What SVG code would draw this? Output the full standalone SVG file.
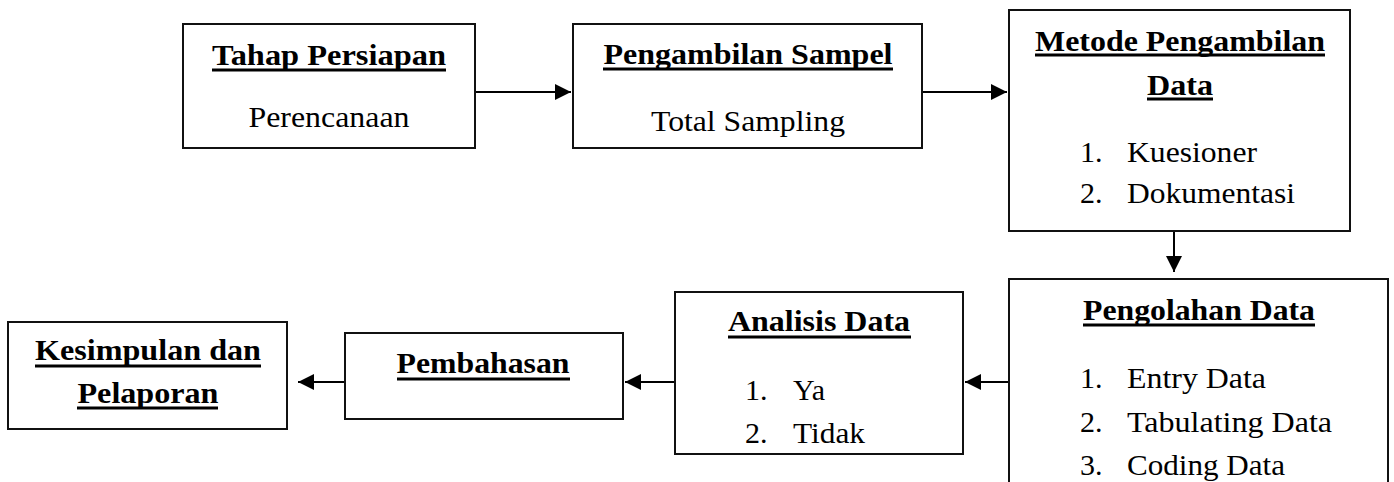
<svg xmlns="http://www.w3.org/2000/svg" width="1394" height="482" viewBox="0 0 1394 482">
<style>
.box{fill:#fff;stroke:#111;stroke-width:2}
.t{font-family:'Liberation Serif','Times New Roman',serif;font-size:30px;fill:#000}
.b{font-weight:bold}
.c{text-anchor:middle}
.ul{stroke:#000;stroke-width:3}
.conn{stroke:#000;stroke-width:2;fill:none}
</style>
<defs>
<marker id="ah" markerUnits="userSpaceOnUse" markerWidth="17" markerHeight="17" refX="16" refY="8" orient="auto">
<path d="M0,0 L16,8 L0,16 Z" fill="#000"/>
</marker>
</defs>
<rect width="1394" height="482" fill="#fff"/>
<g id="connectors">
<line class="conn" x1="475" y1="92" x2="571" y2="92" marker-end="url(#ah)"/>
<line class="conn" x1="922" y1="92" x2="1007" y2="92" marker-end="url(#ah)"/>
<line class="conn" x1="1174" y1="231" x2="1174" y2="272" marker-end="url(#ah)"/>
<line class="conn" x1="1009" y1="382" x2="965" y2="382" marker-end="url(#ah)"/>
<line class="conn" x1="675" y1="382" x2="625" y2="382" marker-end="url(#ah)"/>
<line class="conn" x1="345" y1="382" x2="298" y2="382" marker-end="url(#ah)"/>
</g>
<g font-family="Liberation Serif, Times New Roman, serif">
<g id="tahap-persiapan">
<rect class="box" x="183" y="24" width="292" height="124"/>
<text class="t b c" x="329" y="65" textLength="234" lengthAdjust="spacingAndGlyphs">Tahap Persiapan</text>
<line class="ul" x1="212" y1="70" x2="446" y2="70"/>
<text class="t c" x="329" y="127" textLength="161" lengthAdjust="spacingAndGlyphs">Perencanaan</text>
</g>
<g id="pengambilan-sampel">
<rect class="box" x="573" y="24" width="349" height="124"/>
<text class="t b c" x="748" y="64" textLength="289" lengthAdjust="spacingAndGlyphs">Pengambilan Sampel</text>
<line class="ul" x1="603" y1="69" x2="893" y2="69"/>
<text class="t c" x="748" y="131" textLength="194" lengthAdjust="spacingAndGlyphs">Total Sampling</text>
</g>
<g id="metode-pengambilan-data">
<rect class="box" x="1009" y="10" width="341" height="221"/>
<text class="t b c" x="1180" y="51" textLength="290" lengthAdjust="spacingAndGlyphs">Metode Pengambilan</text>
<line class="ul" x1="1035" y1="55" x2="1325" y2="55"/>
<text class="t b c" x="1180" y="95" textLength="66" lengthAdjust="spacingAndGlyphs">Data</text>
<line class="ul" x1="1147" y1="99" x2="1213" y2="99"/>
<text class="t" x="1080" y="162">1.</text>
<text class="t" x="1127" y="162" textLength="130" lengthAdjust="spacingAndGlyphs">Kuesioner</text>
<text class="t" x="1080" y="203">2.</text>
<text class="t" x="1127" y="203" textLength="168" lengthAdjust="spacingAndGlyphs">Dokumentasi</text>
</g>
<g id="pengolahan-data">
<rect class="box" x="1009" y="279" width="379" height="230"/>
<text class="t b c" x="1199" y="320" textLength="232" lengthAdjust="spacingAndGlyphs">Pengolahan Data</text>
<line class="ul" x1="1083" y1="325" x2="1315" y2="325"/>
<text class="t" x="1080" y="388">1.</text>
<text class="t" x="1127" y="388" textLength="139" lengthAdjust="spacingAndGlyphs">Entry Data</text>
<text class="t" x="1080" y="432">2.</text>
<text class="t" x="1127" y="432" textLength="205" lengthAdjust="spacingAndGlyphs">Tabulating Data</text>
<text class="t" x="1080" y="475">3.</text>
<text class="t" x="1127" y="475" textLength="158" lengthAdjust="spacingAndGlyphs">Coding Data</text>
</g>
<g id="analisis-data">
<rect class="box" x="675" y="292" width="288" height="162"/>
<text class="t b c" x="819" y="331" textLength="182" lengthAdjust="spacingAndGlyphs">Analisis Data</text>
<line class="ul" x1="728" y1="337" x2="911" y2="337"/>
<text class="t" x="745" y="400">1.</text>
<text class="t" x="793" y="400">Ya</text>
<text class="t" x="745" y="443">2.</text>
<text class="t" x="793" y="443" textLength="72" lengthAdjust="spacingAndGlyphs">Tidak</text>
</g>
<g id="pembahasan">
<rect class="box" x="345" y="333" width="278" height="86"/>
<text class="t b c" x="483" y="373" textLength="173" lengthAdjust="spacingAndGlyphs">Pembahasan</text>
<line class="ul" x1="397" y1="379" x2="570" y2="379"/>
</g>
<g id="kesimpulan-pelaporan">
<rect class="box" x="8" y="322" width="279" height="107"/>
<text class="t b c" x="148" y="360" textLength="226" lengthAdjust="spacingAndGlyphs">Kesimpulan dan</text>
<line class="ul" x1="35" y1="366" x2="261" y2="366"/>
<text class="t b c" x="148" y="403" textLength="141" lengthAdjust="spacingAndGlyphs">Pelaporan</text>
<line class="ul" x1="77" y1="408" x2="218" y2="408"/>
</g>
</g>
</svg>
